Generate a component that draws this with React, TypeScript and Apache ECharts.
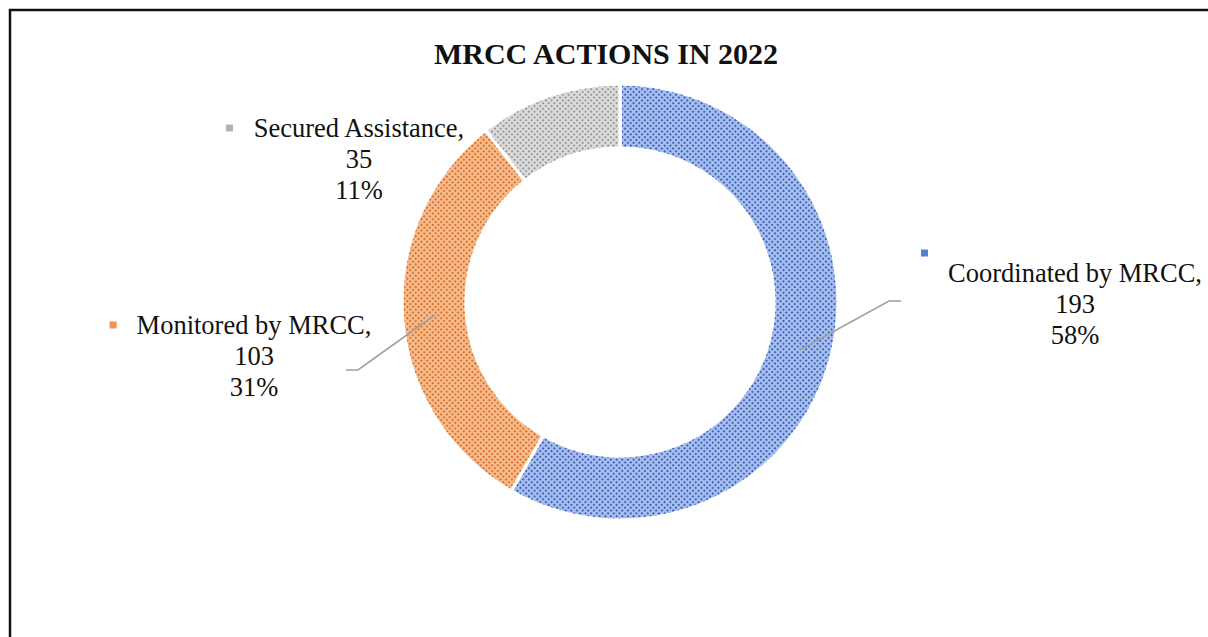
import React, { useEffect, useRef } from 'react';
import * as echarts from 'echarts';

// ---- data ----
const categories = ['Coordinated by MRCC', 'Monitored by MRCC', 'Secured Assistance'];
const values = [193, 103, 35];
const titleText = 'MRCC ACTIONS IN 2022';

// ---- styles ----
const baseColors = ['#a9c0ef', '#f6bc8e', '#dcdcdc'];
const dotColors = ['#3f65be', '#de722a', '#9b9b9b'];
const keyColors = ['#5a7fd2', '#ee9258', '#b2b2b2'];
const FONT = '"Liberation Serif", "Times New Roman", serif';

// ---- layout ----
const CX = 620;
const CY = 302;
const R_IN = 154;
const R_OUT = 218;
const labelPos = [
  { x: 1075, y: 248.5 },
  { x: 254, y: 309.5 },
  { x: 359, y: 112.5 },
];
const leaderEnds: (number[][] | null)[] = [
  [[889, 301], [901, 301]],
  [[358, 370], [346, 370]],
  null,
];

export default function App() {
  const ref = useRef<HTMLDivElement>(null);
  useEffect(() => {
    if (!ref.current) return;
    const chart = echarts.init(ref.current, undefined, { renderer: 'svg' });

    const total = values.reduce((a, b) => a + b, 0);
    const rMid = (R_IN + R_OUT) / 2;
    let acc = 0;
    const mids = values.map((v) => {
      const ang = ((acc + v / 2) / total) * Math.PI * 2;
      acc += v;
      return [CX + rMid * Math.sin(ang), CY - rMid * Math.cos(ang)];
    });

    const leaders = leaderEnds
      .map((ends, i) =>
        ends
          ? {
              type: 'polyline',
              z: 100,
              silent: true,
              shape: { points: [mids[i], ...ends] },
              style: { stroke: '#a0a0a0', lineWidth: 1.6, fill: 'none' },
            }
          : null
      )
      .filter(Boolean);

    const rich: any = {
      t: { fontFamily: FONT, fontSize: 26.5, lineHeight: 31, color: '#111' },
      k0: { width: 7, height: 7, lineHeight: 9, backgroundColor: keyColors[0] },
      k1: { width: 7, height: 7, backgroundColor: keyColors[1] },
      k2: { width: 7, height: 7, backgroundColor: keyColors[2] },
      sp: { width: 301, lineHeight: 9 },
      g: { width: 20 },
      g2: { width: 27 },
    };

    chart.setOption({
      animation: false,
      backgroundColor: '#ffffff',
      title: {
        text: titleText,
        left: 601,
        top: 33,
        textAlign: 'center',
        textStyle: { fontFamily: FONT, fontWeight: 'bold', fontSize: 30, color: '#111' },
      },
      graphic: [
        {
          type: 'rect',
          silent: true,
          shape: { x: 10, y: 10, width: 1230, height: 660 },
          style: { fill: 'none', stroke: '#111', lineWidth: 2.5 },
        },
        ...leaders,
      ],
      series: [
        {
          type: 'pie',
          center: [CX, CY],
          radius: [R_IN, R_OUT],
          startAngle: 90,
          clockwise: true,
          percentPrecision: 0,
          avoidLabelOverlap: false,
          itemStyle: { borderColor: '#ffffff', borderWidth: 3 },
          label: {
            show: true,
            position: 'outside',
            lineHeight: 31,
            fontFamily: FONT,
            formatter: (p: any) => {
              const i = p.dataIndex;
              const body = `{t|${p.value}}\n{t|${p.percent}%}`;
              if (i === 0) return `{k0|}{sp|}\n{t|${p.name},}\n` + body;
              return `{k${i}|}{g|}{t|${p.name},}{g2|}\n` + body;
            },
            rich,
          },
          labelLine: { show: false },
          labelLayout: (params: any) => {
            const pos = labelPos[params.dataIndex];
            return { x: pos.x, y: pos.y, align: 'center', verticalAlign: 'top' };
          },
          emphasis: { disabled: true },
          data: categories.map((name, i) => ({
            name,
            value: values[i],
            itemStyle: {
              color: baseColors[i],
              decal: {
                symbol: 'rect',
                symbolSize: 1,
                dashArrayX: [2, 2],
                dashArrayY: [2, 2],
                rotation: Math.PI / 4,
                color: dotColors[i],
              },
            },
          })),
        },
      ],
    });

    return () => chart.dispose();
  }, []);

  return (
    <div
      ref={ref}
      style={{ position: 'absolute', left: 0, top: 0, width: 1208, height: 637 }}
    />
  );
}
